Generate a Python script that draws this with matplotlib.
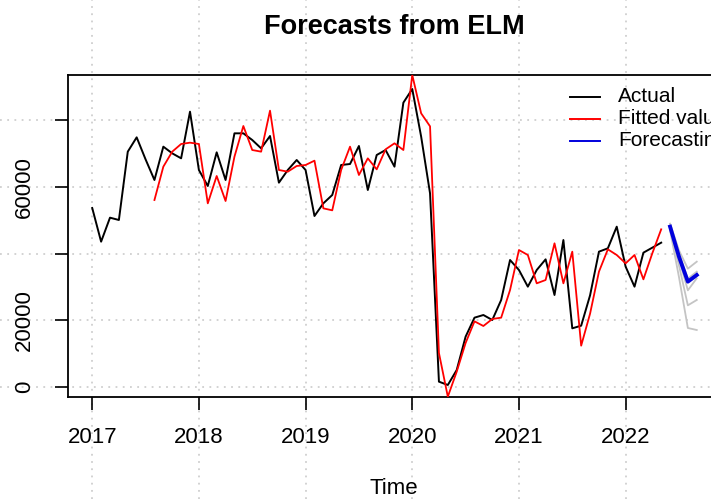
import numpy as np
import matplotlib
matplotlib.use("Agg")
import matplotlib.pyplot as plt
from matplotlib.transforms import blended_transform_factory

plt.rcParams['font.family'] = ['Liberation Sans', 'DejaVu Sans']

# ---- data (monthly, starting Jan 2017) ----
start_year = 2017
actual = [53700, 43600, 50800, 50100, 70600, 74900, 68300, 62100, 72100, 70100,
          68600, 82600, 65100, 60300, 70400, 62100, 76100, 76100, 74100, 71600,
          75300, 61300, 65100, 68100, 65100, 51300, 55100, 57600, 66600, 66900,
          72300, 59100, 69600, 71100, 66100, 85300, 89400, 75100, 58100, 1600,
          600, 5100, 15100, 20800, 21600, 20100, 26100, 38100, 35100, 30100,
          35100, 38300, 27600, 44100, 17600, 18400, 27500, 40600, 41600, 48100,
          36100, 30100, 40300, 41800, 43300]
fitted_start = 7
fitted = [56100, 66100, 70600, 72900, 73300, 72900, 55100, 63300, 55800, 69100,
          78300, 71100, 70600, 82900, 65100, 64600, 66300, 66600, 67900, 53600,
          53000, 65100, 72100, 63600, 68600, 65300, 71300, 73100, 71100, 93600,
          82100, 78200, 10200, -2900, 4600, 13200, 19700, 18300, 20400, 20800,
          29100, 41100, 39600, 31100, 32100, 43100, 31100, 40600, 12400, 22000,
          34600, 41300, 39600, 37100, 39600, 32300, 40100, 47300]
forecast_start = 65
forecast = [48100, 39100, 31600, 33600]
members = [
    [49000, 41000, 35500, 37600],
    [48500, 40000, 32500, 34600],
    [48000, 38500, 29000, 32600],
    [47500, 36500, 24500, 26100],
    [47000, 33000, 17700, 17100],
]
year_ticks = [2017, 2018, 2019, 2020, 2021, 2022]
y_ticks = [0, 20000, 40000, 60000, 80000]
y_ticklabels = ['0', '20000', '', '60000', '']

t_act = start_year + np.arange(len(actual)) / 12
t_fit = start_year + (fitted_start + np.arange(len(fitted))) / 12
t_fc = start_year + (forecast_start + np.arange(len(forecast))) / 12

W, H = 711, 499
fig = plt.figure(figsize=(W / 100, H / 100), dpi=100)
ax = fig.add_axes([68 / W, 1 - 397 / H, (721 - 68) / W, (397 - 75) / H])

ax.set_xlim(2016.773, 2022.894)
ax.set_ylim(-3000, 93600)

# grid that spans whole figure (like R grid on device)
grid_kw = dict(color='#cfcfcf', lw=1.3, linestyle=(0, (1, 3)), clip_on=False, zorder=0)
tv = blended_transform_factory(ax.transData, fig.transFigure)
for yr in year_ticks:
    ax.plot([yr, yr], [0, 1], transform=tv, **grid_kw)
th = blended_transform_factory(fig.transFigure, ax.transData)
for yv in y_ticks:
    ax.plot([0, 1], [yv, yv], transform=th, **grid_kw)

for m in members:
    ax.plot(t_fc, m, color='#c4c4c4', lw=1.3, zorder=2)
ax.plot(t_act, actual, color='black', lw=1.4, zorder=3)
ax.plot(t_fit, fitted, color='red', lw=1.3, zorder=4)
ax.plot(t_fc, forecast, color='#0000dd', lw=2.8, zorder=5)

ax.set_xticks(year_ticks)
ax.set_xticklabels([str(y) for y in year_ticks], fontsize=16)
ax.set_yticks(y_ticks)
ax.set_yticklabels(y_ticklabels, fontsize=16, rotation=90, va='center')
ax.tick_params(axis='both', direction='out', length=9.5, width=1.2, color='black')
ax.tick_params(axis='x', pad=12)
ax.tick_params(axis='y', pad=14)
for s in ax.spines.values():
    s.set_linewidth(1.3)
    s.set_color('black')

fig.text(394 / W, 1 - 27 / H, 'Forecasts from ELM', ha='center', va='center',
         fontsize=19.5, fontweight='bold')
fig.text(394 / W, 1 - 488 / H, 'Time', ha='center', va='center', fontsize=16)

# legend (no frame)
leg_items = [('Actual', 'black'), ('Fitted value', 'red'), ('Forecasting', '#0000dd')]
for k, (lab, col) in enumerate(leg_items):
    yy = 1 - (97 + 22 * k) / H
    fig.add_artist(plt.Line2D([570 / W, 600 / W], [yy, yy], color=col, lw=1.4,
                              transform=fig.transFigure))
    fig.text(618 / W, yy, lab, ha='left', va='center', fontsize=15)

fig.savefig('out.png', dpi=100)
